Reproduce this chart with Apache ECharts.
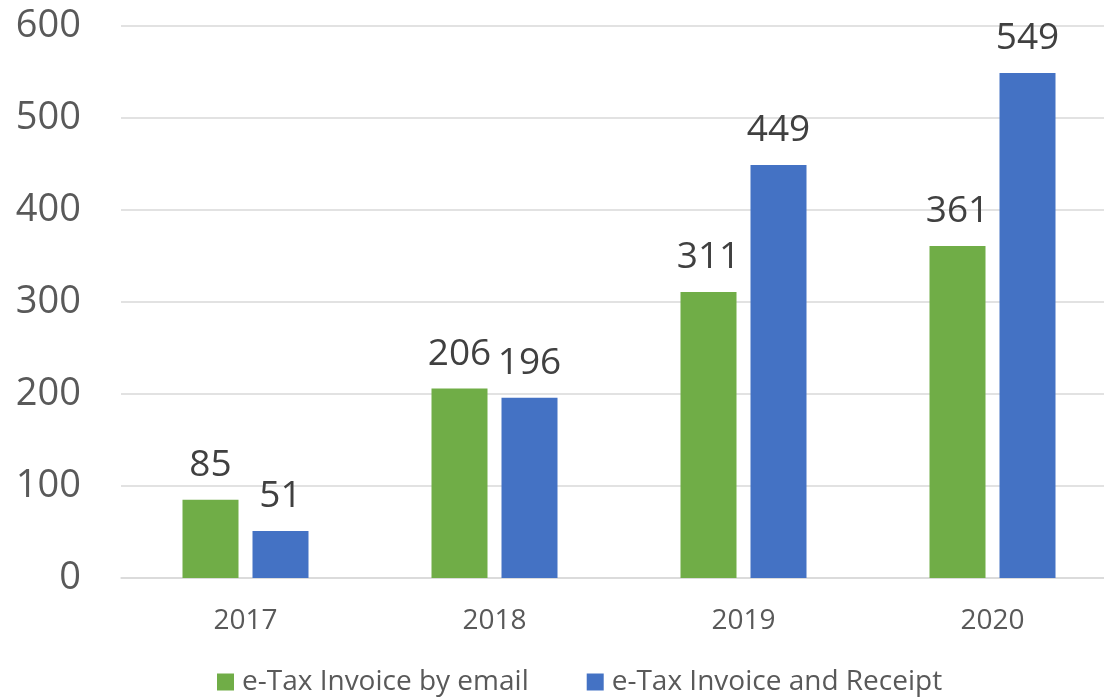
<!DOCTYPE html>
<html>
<head>
<meta charset="utf-8">
<script src="https://cdn.jsdelivr.net/npm/echarts@6/dist/echarts.min.js"></script>
<style>
  html, body { margin: 0; padding: 0; background: #fff; overflow: hidden; }
  /* the original plot is cut off at the right edge, so the canvas is wider than the window */
  #chart { width: 1117px; height: 699px; }
</style>
</head>
<body>
<div id="chart"></div>
<script>
// data
var years = ['2017', '2018', '2019', '2020'];
var byEmail = [85, 206, 311, 361];
var invoiceReceipt = [51, 196, 449, 549];
var seriesNames = ['e-Tax Invoice by email', 'e-Tax Invoice and Receipt'];

var font = '"Open Sans", "Noto Sans", sans-serif';

var chart = echarts.init(document.getElementById('chart'));
chart.setOption({
    backgroundColor: '#fff',
    animation: false,
    color: ['#70AD47', '#4472C4'],
    grid: { left: 121, right: 0, top: 26, bottom: 121 },
    legend: {
        data: seriesNames,
        left: 217,
        top: 668,
        padding: 0,
        icon: 'rect',
        itemWidth: 17,
        itemHeight: 17,
        itemGap: 58,
        textStyle: { fontFamily: font, fontSize: 28, color: '#595959', padding: [0, 0, 0, 3] }
    },
    xAxis: {
        type: 'category',
        data: years,
        axisLine: { lineStyle: { color: '#d9d9d9', width: 1.5 } },
        axisTick: { show: false },
        axisLabel: { fontFamily: font, fontSize: 28, color: '#595959', margin: 29 }
    },
    yAxis: {
        type: 'value',
        min: 0,
        max: 600,
        interval: 100,
        axisLine: { show: false },
        axisTick: { show: false },
        splitLine: { lineStyle: { color: '#d9d9d9', width: 1.5 } },
        axisLabel: { fontFamily: font, fontSize: 38, color: '#595959', margin: 40 }
    },
    series: [
        {
            name: seriesNames[0],
            type: 'bar',
            data: byEmail,
            barWidth: 56,
            barGap: '25%',
            label: { show: true, position: 'top', distance: 16, fontFamily: font, fontSize: 37, color: '#404040' }
        },
        {
            name: seriesNames[1],
            type: 'bar',
            data: invoiceReceipt,
            barWidth: 56,
            barGap: '25%',
            label: { show: true, position: 'top', distance: 16, fontFamily: font, fontSize: 37, color: '#404040' }
        }
    ]
});
</script>
</body>
</html>
